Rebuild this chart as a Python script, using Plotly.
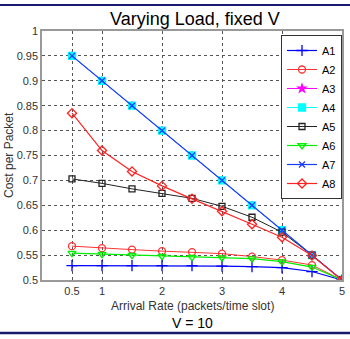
import plotly.graph_objects as go

x = [0.5, 1, 1.5, 2, 2.5, 3, 3.5, 4, 4.5, 5]
A1 = [0.529, 0.529, 0.529, 0.529, 0.529, 0.528, 0.527, 0.525, 0.517, 0.5]
A2 = [0.568, 0.564, 0.561, 0.558, 0.556, 0.553, 0.547, 0.540, 0.530, 0.5]
A3 = [0.95, 0.90, 0.85, 0.80, 0.75, 0.70, 0.65, 0.60, 0.55, 0.5]
A4 = [0.95, 0.90, 0.85, 0.80, 0.75, 0.70, 0.65, 0.60, 0.55, 0.5]
A5 = [0.703, 0.694, 0.683, 0.674, 0.664, 0.648, 0.626, 0.596, 0.550, 0.5]
A6 = [0.554, 0.552, 0.550, 0.548, 0.546, 0.545, 0.543, 0.537, 0.526, 0.5]
A7 = [0.95, 0.90, 0.85, 0.80, 0.75, 0.70, 0.65, 0.60, 0.55, 0.5]
A8 = [0.835, 0.760, 0.718, 0.689, 0.663, 0.638, 0.612, 0.586, 0.549, 0.5]

x_ticks = [0.5, 1, 2, 3, 4, 5]
x_ticklabels = ["0.5", "1", "2", "3", "4", "5"]
y_ticks = [0.5, 0.55, 0.6, 0.65, 0.7, 0.75, 0.8, 0.85, 0.9, 0.95, 1]
y_ticklabels = ["0.5", "0.55", "0.6", "0.65", "0.7", "0.75", "0.8", "0.85", "0.9", "0.95", "1"]

series = [
    ("A1", A1, "#0000ff", "cross-thin", 1.2, 8),
    ("A2", A2, "#ff3333", "circle-open", 1.0, 7),
    ("A3", A3, "#ff00ff", "star", 1.0, 6),
    ("A4", A4, "#00ffff", "square", 1.0, 7),
    ("A5", A5, "#222222", "square-open", 1.0, 6),
    ("A6", A6, "#00ee00", "triangle-down-open", 1.2, 7),
    ("A7", A7, "#1a3cff", "x-thin", 1.2, 6),
    ("A8", A8, "#ff2222", "diamond-open", 1.2, 7),
]

W, H = 350, 339
def px(v):
    return v / W
def py(v):
    return 1 - v / H

fig = go.Figure()
for name, ys, color, sym, lw, ms in series:
    fig.add_trace(go.Scatter(
        x=x, y=ys, name=name, mode="lines+markers",
        line=dict(color=color, width=lw),
        marker=dict(symbol=sym, size=ms, color=color,
                    line=dict(color=color, width=1.3)),
    ))

FONT = "Liberation Sans, Arial"
axis_font = dict(family=FONT, size=11, color="#333333")
fig.update_layout(
    width=W, height=H,
    margin=dict(l=0, r=0, t=0, b=0),
    paper_bgcolor="white", plot_bgcolor="white",
    xaxis=dict(domain=[px(42), px(342)], range=[0, 5],
               tickvals=x_ticks, ticktext=x_ticklabels,
               showgrid=True, gridcolor="#555555", griddash="dot", gridwidth=1,
               showline=True, linecolor="#999999", linewidth=1.5, mirror=True,
               ticks="", tickfont=axis_font, zeroline=False, automargin=False),
    yaxis=dict(domain=[py(280), py(31)], range=[0.5, 1],
               tickvals=y_ticks, ticktext=y_ticklabels,
               showgrid=True, gridcolor="#555555", griddash="dot", gridwidth=1,
               showline=True, linecolor="#999999", linewidth=1.5, mirror=True,
               ticks="", tickfont=axis_font, zeroline=False, automargin=False),
    legend=dict(x=px(342), xanchor="right", y=py(35), yanchor="top",
                bgcolor="white", bordercolor="#333333", borderwidth=1,
                font=dict(family=FONT, size=11, color="black"),
                tracegroupgap=0, itemwidth=30),
    showlegend=True,
)
fig.add_annotation(text="Varying Load, fixed V", xref="paper", yref="paper",
                   x=px(195), y=py(19), xanchor="center", yanchor="middle", showarrow=False,
                   font=dict(family=FONT, size=18, color="black"))
fig.add_annotation(text="Arrival Rate (packets/time slot)", xref="paper", yref="paper",
                   x=px(192), y=py(306), xanchor="center", yanchor="middle", showarrow=False,
                   font=dict(family=FONT, size=12, color="#333333"))
fig.add_annotation(text="V = 10", xref="paper", yref="paper",
                   x=px(192), y=py(323), xanchor="center", yanchor="middle", showarrow=False,
                   font=dict(family=FONT, size=14, color="black"))
fig.add_annotation(text="Cost per Packet", xref="paper", yref="paper", textangle=-90,
                   x=px(9), y=py(155), xanchor="center", yanchor="middle", showarrow=False,
                   font=dict(family=FONT, size=12, color="#333333"))
fig.add_shape(type="line", xref="paper", yref="paper", x0=0, x1=1,
              y0=py(5), y1=py(5), line=dict(color="#1a1a6e", width=2))
fig.add_shape(type="line", xref="paper", yref="paper", x0=0, x1=1,
              y0=py(333), y1=py(333), line=dict(color="#1a1a6e", width=2.5))
fig.write_html("out.html", config={"displayModeBar": False},
               post_script="document.body.style.margin='0';")
